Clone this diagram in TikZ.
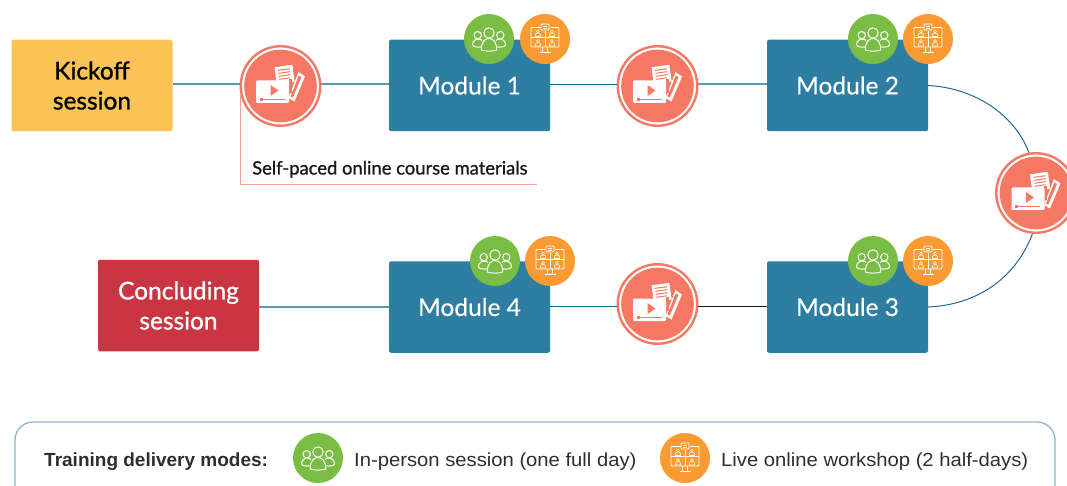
\documentclass[tikz,border=0pt]{standalone}
\usepackage{fontspec}
\setmainfont{Lato}
\newfontfamily\latomed[FakeBold=1.0]{Lato}
\newfontfamily\latomod[FakeBold=0.3]{Lato}
\newfontfamily\legfont[FakeStretch=1.065]{Liberation Sans}
\newfontfamily\legbold[FakeStretch=1.0]{Liberation Sans Bold}
\definecolor{teal}{HTML}{2D7EA0}
\definecolor{kick}{HTML}{F9C455}
\definecolor{conc}{HTML}{C93540}
\definecolor{coral}{HTML}{F47864}
\definecolor{greenc}{HTML}{7ABD45}
\definecolor{orangec}{HTML}{FA9A33}
\definecolor{linkdark}{HTML}{1F6A92}
\definecolor{linkpale}{HTML}{5C97B4}
\definecolor{legb}{HTML}{8DB4CC}
\tikzset{
  x=1pt,y=-1pt,
  modbox/.style={rectangle,rounded corners=2pt,fill=teal,minimum width=161pt,minimum height=91.5pt,inner sep=0pt,text=white,font=\latomod\fontsize{24.5}{29}\selectfont,align=center},
  sessbox/.style={modbox,fill=#1},
  filmc/.style={circle,draw=coral,line width=2.4pt,fill=white,minimum size=79.5pt,inner sep=0pt},
  modec/.style={circle,fill=#1,minimum size=50pt,inner sep=0pt},
  ic/.style={draw=white,line width=1pt,fill=none,line join=round},
  link/.style={line width=1pt,draw=linkdark},
  linklight/.style={line width=1.1pt,draw=linkpale},
  leg/.style={font=\legfont\fontsize{19}{22}\selectfont,text=black!82,anchor=west,inner sep=0pt},
  film/.pic={
    \fill[coral] (0,0) circle[radius=36.3];
    \fill[white,rotate around={8:(4,-12)}] (-5,-20) rectangle (13,-3);
    \draw[coral,line width=1pt,rotate around={8:(4,-12)}] (-2,-16.5) -- (10,-16.5) (-2,-13.5) -- (10,-13.5) (-2,-10.5) -- (10,-10.5) (-2,-7.5) -- (9,-7.5);
    \fill[white] (18,-14) -- (24.5,-9.5) -- (14,15.5) -- (8,12) -- cycle;
    \fill[coral] (18.3,-10.5) -- (21,-9) -- (12.3,11.5) -- (10,10.5) -- cycle;
    \fill[coral] (8,-7) rectangle (11,7);
    \fill[white,rounded corners=1.2pt] (-24.5,-5.5) rectangle (8.5,17);
    \fill[coral] (-10,-1) -- (-10,10) -- (-2,4.5) -- cycle;
    \draw[coral,line width=1pt] (-20,13.5) -- (4,13.5);
    \fill[coral] (-21,11.8) rectangle (-18,15.2);
  },
  people/.pic={
    \draw[ic] (0,-6) circle[radius=5.2];
    \draw[ic] (-7.6,11) .. controls (-8,3) and (-4,-0.5) .. (0,-0.5) .. controls (4,-0.5) and (8,3) .. (7.6,11) .. controls (4,12.5) and (-4,12.5) .. (-7.6,11) -- cycle;
    \draw[ic] (-11.3,-3.8) circle[radius=3.7];
    \draw[ic] (11.3,-3.8) circle[radius=3.7];
    \draw[ic] (-7.5,7.8) .. controls (-12,8.5) and (-16.5,8) .. (-16.5,5.5) .. controls (-16.5,2) and (-13,0) .. (-11,0) .. controls (-9.5,0) and (-8,0.5) .. (-7,1.5);
    \draw[ic] (7.5,7.8) .. controls (12,8.5) and (16.5,8) .. (16.5,5.5) .. controls (16.5,2) and (13,0) .. (11,0) .. controls (9.5,0) and (8,0.5) .. (7,1.5);
  },
  screen/.pic={
    \draw[ic,line width=0.8pt,rounded corners=1pt] (-14,-11.5) rectangle (14,8);
    \draw[ic,line width=0.7pt] (-14,-1.5) -- (14,-1.5) (0,-8) -- (0,8);
    \draw[ic,line width=0.8pt] (-2.5,8) -- (-2.5,13) (2.5,8) -- (2.5,13) (-5.5,13.5) -- (5.5,13.5);
    \foreach \px/\py in {-7/-2.5,7/-2.5,-7/7,7/7}{
      \draw[ic,line width=0.55pt] (\px,\py-5) circle[radius=1.5];
      \draw[ic,line width=0.55pt] (\px-2.6,\py) -- (\px-2.6,\py-1.5) .. controls (\px-2.6,\py-2.8) and (\px-1.5,\py-3.5) .. (\px,\py-3.5) .. controls (\px+1.5,\py-3.5) and (\px+2.6,\py-2.8) .. (\px+2.6,\py-1.5) -- (\px+2.6,\py) -- cycle;
    }
    \fill[orangec] (-4.5,-15) rectangle (4.5,-8);
    \draw[ic,line width=0.8pt,rounded corners=1pt] (-4,-15) rectangle (4,-9);
    \draw[ic,line width=0.6pt] (-2.2,-13) -- (2.2,-13) (-2.2,-11) -- (2.2,-11);
  },
}
\begin{document}
\begin{tikzpicture}
\useasboundingbox (0,0) rectangle (1067,486);
\begin{scope}
\clip (0,0) rectangle (1067,486);
% nodes
\node[sessbox=kick,text=black,font=\latomed\fontsize{24.5}{30}\selectfont] (kickoff) at (92,85.5) {Kickoff\\session};
\node[sessbox=conc,font=\latomed\fontsize{24.5}{30}\selectfont] (concl) at (178.5,305.5) {Concluding\\session};
\node[modbox] (m1) at (469.5,85.5) {Module 1};
\node[modbox] (m2) at (847.5,85.5) {Module 2};
\node[modbox] (m3) at (847.5,307) {Module 3};
\node[modbox] (m4) at (469.5,307) {Module 4};
\node[filmc] (f1) at (280.5,86) {};
\node[filmc] (f2) at (657.5,86) {};
\node[filmc] (f3) at (1036,193) {};
\node[filmc] (f4) at (657.5,304) {};
\pic at (f1.center) {film};
\pic at (f2.center) {film};
\pic at (f3.center) {film};
\pic at (f4.center) {film};
% connectors
\coordinate (annoend) at (537,185);
\draw[linklight] ([yshift=1.5pt]kickoff.east) -- ([yshift=1.5pt]kickoff.east -| f1.west);
\draw[linklight] ([yshift=1.5pt]m1.west) -- ([yshift=1.5pt]m1.west -| f1.east);
\draw[link] ([yshift=1pt]m1.east) -- ([yshift=1pt]m1.east -| f2.west);
\draw[linklight] ([yshift=1.5pt]m2.west) -- ([yshift=1.5pt]m2.west -| f2.east);
\draw[link] (m2.east) .. controls (975,88) and (1015,115) .. (f3.100);
\draw[link] (f3.265) .. controls (1015,280) and (975,305) .. (m3.east);
\draw[linklight] ([yshift=-1.5pt]concl.east) -- (m4.west);
\draw[link] ([yshift=1pt]m4.east) -- ([yshift=1pt]m4.east -| f4.west);
\draw[line width=0.9pt,draw=black!75!linkdark] ([yshift=1pt]m3.west) -- ([yshift=1pt]m3.west -| f4.east);
\draw[line width=1pt,draw=coral!70] (f1.193) |- (annoend);
% mode badges
\foreach \nm/\gx/\ox/\yy in {a/489/545/39,b/873/928/39,c/873/928/261,d/495/550/261}{
  \node[modec=greenc] (g\nm) at (\gx,\yy) {};
  \node[modec=orangec] (o\nm) at (\ox,\yy) {};
  \pic at (g\nm.center) {people};
  \pic at (o\nm.center) {screen};
}
% label
\node[anchor=base west,inner sep=0pt,font=\latomed\fontsize{18.4}{20}\selectfont,text=black!90] (annot) at (252,174.5) {Self-paced online course materials};
% legend
\coordinate (legbl) at (15,486);
\coordinate (legtl) at (15,422);
\coordinate (legtr) at (1055,422);
\coordinate (legbr) at (1055,486);
\draw[line width=1.3pt,draw=legb,rounded corners=18pt] (legbl) -- (legtl) -- (legtr) -- (legbr);
\node[leg,font=\legbold\fontsize{19}{22}\selectfont] (legt) at (44,461.5) {Training delivery modes:};
\node[modec=greenc] (lg) at (318,458) {};
\pic at (lg.center) {people};
\node[leg] (lgt) at (354,461.5) {In-person session (one full day)};
\node[modec=orangec] (lo) at (685,458) {};
\pic at (lo.center) {screen};
\node[leg] (lot) at (721,461.5) {Live online workshop (2 half-days)};
\end{scope}
\end{tikzpicture}
\end{document}
